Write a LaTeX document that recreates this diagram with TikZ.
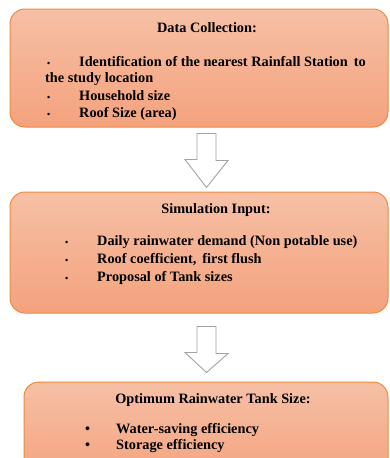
\documentclass[tikz,border=0pt]{standalone}
\usepackage{fontspec}
\setmainfont{Liberation Serif}
\usepackage{tikz}
\usetikzlibrary{arrows.meta,positioning,calc}
\definecolor{boxedge}{HTML}{F08A3E}
\definecolor{boxtop}{HTML}{F6C0A6}
\definecolor{boxbot}{HTML}{F4A27D}
\definecolor{arredge}{HTML}{A3A3A3}

\begin{document}
\begin{tikzpicture}[
  x=1pt, y=-1pt,
  font=\fontsize{14.3}{16}\selectfont\bfseries,
  box/.style={draw=boxedge, line width=1pt, rounded corners=15pt,
    top color=boxtop, bottom color=boxbot, inner sep=0pt},
  head/.style={anchor=base},
  item/.style={anchor=base west, inner sep=0pt},
  blockarr/.style={draw=arredge, fill=white, line width=0.9pt, line join=miter}
]
\useasboundingbox (0,0) rectangle (389,458);
\clip (0,0) rectangle (389,458);

\node[box, minimum width=378pt, minimum height=118pt] (dc) at (199,68) {};
\node[head] (dct) at (207,32) {Data Collection:};
\node[item] (dcb1) at (47,66) {\small\textbullet};
\node[item] (dci1) at (79,66) {Identification of the nearest Rainfall Station\, to};
\node[item] (dci1b) at (45,82) {the study location};
\node[item] (dcb2) at (47,100) {\small\textbullet};
\node[item] (dci2) at (79,100) {Household size};
\node[item] (dcb3) at (47,117) {\small\textbullet};
\node[item] (dci3) at (79,117) {Roof Size (area)};

\node[box, minimum width=378pt, minimum height=121pt] (si) at (199,252.5) {};
\node[head] (sit) at (216,213) {Simulation Input:};
\node[item] (sib1) at (65,245) {\small\textbullet};
\node[item] (sii1) at (97,245) {Daily rainwater demand (Non potable use)};
\node[item] (sib2) at (65,263) {\small\textbullet};
\node[item] (sii2) at (97,263) {Roof coefficient,\, first flush};
\node[item] (sib3) at (65,281) {\small\textbullet};
\node[item] (sii3) at (97,281) {Proposal of Tank sizes};

\node[box, minimum width=364pt, minimum height=100pt] (ot) at (206,432) {};
\node[head] (ott) at (213,403) {Optimum Rainwater Tank Size:};
\node[item] (otb1) at (85,433) {\textbullet};
\node[item] (oti1) at (116,433) {Water-saving efficiency};
\node[item] (otb2) at (85,449) {\textbullet};
\node[item] (oti2) at (116,449) {Storage efficiency};

\coordinate (a1) at ($(dc.south)+(7.5,6)$);
\coordinate (a2) at ($(si.south)+(7.5,13)$);
\draw[blockarr] (a1) ++(-9.5,0) -- ++(19,0) -- ++(0,27) -- ++(12,0)
  -- ($(si.north)+(7.5,-4)$) -- ++(-21.5,-28) -- ++(12,0) -- cycle;
\draw[blockarr] (a2) ++(-9.5,0) -- ++(19,0) -- ++(0,27) -- ++(12,0)
  -- ($(ot.north)+(0.5,-9)$) -- ++(-21.5,-20) -- ++(12,0) -- cycle;
\end{tikzpicture}
\end{document}
